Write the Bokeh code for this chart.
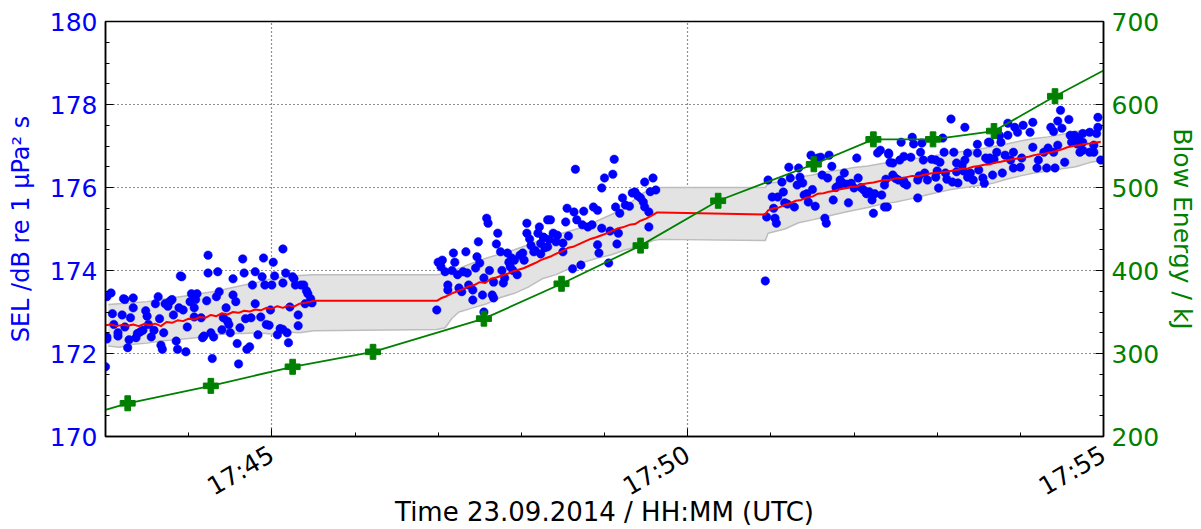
import math
import calendar
from datetime import datetime
from bokeh.plotting import figure
from bokeh.models import (Range1d, LinearAxis, SingleIntervalTicker, FixedTicker,
                          DatetimeTickFormatter)
from bokeh.embed import file_html
from bokeh.resources import INLINE

# ---------------- data ----------------
# times are seconds after 17:43:00 UTC on 23.09.2014
base_time = "2014-09-23 17:43:00"

sel_t = [
    # cluster 1
    4, 1, 1, 1, 0, 5, 6, 9, 9, 12, 13, 14, 14, 16, 17, 18, 20, 20, 22, 23, 25, 27, 29, 30, 31, 33, 35, 36, 38, 39,
    40, 41, 42, 43, 45, 46, 47, 48, 49, 51, 52, 53, 54, 55, 56, 58, 59, 61, 62, 64, 64, 65, 66, 69, 70, 71, 73, 74,
    74, 76, 77, 78, 80, 81, 82, 84, 85, 87, 88, 89, 90, 92, 92, 94, 95, 96, 97, 99, 100, 101, 102, 104, 105, 106,
    108, 108, 110, 112, 113, 114, 115, 116, 118, 119, 120, 121, 122, 124, 126, 128, 128, 128, 130, 131, 132, 133,
    135, 136, 137, 139, 139, 141, 143, 144, 145, 146, 148, 149,
    # cluster 2
    239, 240, 243, 242, 245, 247, 247, 250, 251, 252, 254, 255, 257, 258, 260, 261, 262, 265, 265, 267, 268, 269,
    270, 272, 273, 273, 275, 276, 277, 279, 280, 280, 282, 283, 285, 286, 287, 288, 290, 291, 292, 293, 294, 295,
    297, 299, 301, 302, 304, 304, 306, 307, 309, 310, 312, 313, 314, 316, 317, 319, 320,
    339, 367, 366, 360, 358, 389, 395, 397, 393, 333, 338, 345, 352, 355, 368, 373, 375, 378, 380, 382, 384, 386,
    388, 389, 392, 371, 321, 332, 340, 344, 348, 351, 358, 364, 316, 323, 326, 334, 319, 325, 330, 370, 392, 355,
    369, 356, 330, 363, 343, 337, 314,
    # cluster 3
    476, 477, 478, 481, 482, 483, 484, 485, 488, 489, 490, 492, 493, 494, 497, 499, 500, 501, 503, 504, 506, 507,
    509, 510, 512, 514, 516, 517, 519, 520, 521, 522, 524, 525, 527, 529, 530, 532, 533, 535, 536, 538, 540, 542,
    543, 545, 547, 549, 551, 553, 554, 555, 557, 559, 560, 562, 563, 565, 566,
    574, 582, 583, 589, 604, 629, 637, 565, 568, 573, 576, 581, 588, 590, 596, 599, 602, 605, 612, 614, 618, 620,
    622, 629, 635, 637, 562, 568, 570, 572, 576, 578, 586, 587, 591, 593, 599, 600, 606, 607, 611, 614, 615, 619,
    622, 624, 626, 630, 633, 634, 640, 586, 601, 564, 576, 610, 620,
    689, 687, 695, 669, 662, 656, 651, 682, 684, 667, 658, 651, 646, 645, 690, 696, 699, 702, 705, 710, 716, 716,
    697, 701, 705, 713, 715, 638, 643, 649, 655, 669, 677, 680, 684, 687, 705, 710, 713, 638, 641, 653, 661, 673,
    692, 703, 647, 655, 660, 672, 679, 685, 718,
]
sel_db = [
    # cluster 1
    173.46, 173.37, 172.40, 172.35, 171.68, 172.96, 172.70, 172.50, 172.42, 172.93, 173.32, 173.30, 172.64, 172.14,
    172.33, 172.86, 173.34, 173.10, 172.38, 172.48, 172.52, 172.56, 173.03, 172.90, 172.70, 172.40, 172.56, 173.20,
    173.37, 172.84, 172.20, 172.10, 172.50, 173.20, 173.14, 173.24, 173.27, 173.30, 172.93, 172.30, 172.10, 173.10,
    173.87, 173.85, 173.05, 172.04, 172.64, 173.25, 173.44, 173.10, 172.88, 173.30, 173.44, 172.86, 172.38, 172.42,
    173.27, 174.37, 173.94, 172.50, 171.88, 172.40, 173.37, 173.97, 173.49, 172.57, 172.86, 173.10, 172.78, 172.70,
    172.50, 173.41, 173.80, 173.25, 172.24, 171.75, 172.62, 174.28, 173.94, 172.84, 172.10, 172.16, 172.86, 173.65,
    173.97, 173.20, 172.45, 172.88, 173.85, 174.30, 173.65, 172.70, 172.68, 173.05, 173.65, 174.20, 173.87, 172.45,
    172.60, 172.58, 173.70, 174.52, 173.94, 172.50, 172.26, 173.12, 173.85, 173.80, 173.65, 172.93, 172.67, 173.65,
    173.65, 173.20, 173.51, 173.44, 173.32, 173.22,
    # cluster 2
    173.05, 174.20, 174.25, 174.09, 173.97, 173.65, 173.53, 174.00, 174.42, 174.20, 173.90, 173.58, 173.49, 173.97,
    174.45, 173.94, 173.65, 173.53, 173.29, 174.06, 174.33, 174.69, 174.18, 173.41, 173.00, 173.82, 175.26, 175.14,
    174.00, 173.41, 173.34, 173.72, 174.64, 174.90, 174.45, 174.00, 173.70, 173.82, 174.42, 174.20, 174.09, 174.30,
    174.00, 174.25, 173.90, 174.37, 174.42, 174.25, 175.14, 174.90, 174.76, 174.60, 174.45, 174.48, 174.90, 175.05,
    174.65, 174.80, 174.55, 175.22, 174.75,
    176.44, 176.68, 176.32, 176.23, 175.99, 176.13, 176.23, 175.94, 175.90, 175.50, 175.41, 175.43, 175.53, 175.45,
    175.53, 175.75, 175.58, 175.55, 175.87, 175.89, 175.80, 175.75, 175.65, 175.53, 175.41, 175.38, 175.22, 175.17,
    175.22, 175.10, 175.05, 175.10, 175.02, 174.95, 174.80, 174.90, 174.85, 174.83, 174.57, 174.69, 174.66, 174.90,
    175.05, 174.62, 174.64, 174.42, 174.45, 174.18, 174.13, 174.04, 174.40,
    # cluster 3
    173.75, 175.29, 176.18, 175.77, 175.50, 175.26, 175.14, 175.77, 176.13, 175.89, 175.63, 175.60, 176.49, 176.23,
    175.53, 176.06, 176.47, 176.25, 176.11, 175.82, 175.85, 175.65, 176.78, 175.95, 175.55, 176.71, 176.73, 176.30,
    175.26, 175.14, 176.23, 176.78, 176.51, 175.70, 176.00, 176.05, 176.18, 176.10, 176.35, 176.08, 175.63, 176.10,
    175.99, 176.71, 176.23, 176.00, 175.94, 175.85, 175.90, 175.70, 175.38, 175.85, 176.83, 176.90, 175.82, 175.53,
    176.20, 176.80, 176.60,
    177.09, 177.21, 177.05, 177.07, 177.19, 177.04, 177.09, 176.83, 176.59, 176.66, 176.75, 176.73, 176.85, 176.66,
    176.68, 176.66, 176.61, 176.85, 176.85, 176.59, 176.54, 176.66, 176.83, 176.83, 176.71, 176.66, 176.06, 176.30,
    176.22, 176.18, 176.15, 176.06, 176.18, 176.28, 176.35, 176.18, 176.25, 176.40, 176.35, 176.20, 176.13, 176.38,
    176.11, 176.40, 176.25, 176.35, 176.18, 176.42, 176.23, 176.10, 176.30, 175.75, 175.99, 175.53, 176.10, 177.65,
    177.45,
    177.86, 177.60, 177.64, 177.57, 177.50, 177.45, 177.55, 177.45, 177.35, 177.33, 177.33, 177.26, 177.09, 177.25,
    177.43, 177.26, 177.26, 177.19, 177.30, 177.33, 177.69, 177.45, 177.09, 177.05, 177.09, 177.02, 177.30, 177.09,
    176.85, 176.78, 176.85, 176.97, 176.85, 176.95, 176.85, 177.02, 176.90, 176.85, 176.85, 176.71, 176.68, 176.66,
    176.71, 176.66, 176.61, 176.85, 176.35, 176.47, 176.49, 176.47, 176.47, 176.47, 176.66,
]

median_t = [0, 4, 8, 12, 16, 20, 24, 28, 32, 36, 40, 44, 48, 52, 56, 60, 64, 68, 72, 76, 80, 84, 88, 92, 96, 100,
            104, 108, 112, 116, 120, 124, 128, 132, 136, 140, 144, 148, 150,
            239, 242, 246, 250, 254, 258, 262, 266, 270, 274, 278, 282, 286, 290, 294, 298, 302, 306, 310, 314, 318,
            322, 326, 330, 334, 338, 342, 346, 350, 354, 358, 362, 366, 370, 374, 378, 382, 386, 390, 394, 398, 400,
            476, 478, 482, 486, 490, 494, 498, 502, 506, 510, 514, 518, 522, 526, 530, 534, 538, 542, 546, 550, 554,
            558, 562, 566, 570, 574, 578, 582, 586, 590, 594, 598, 602, 606, 610, 614, 618, 622, 626, 630, 634, 638,
            642, 646, 650, 654, 658, 662, 666, 670, 674, 678, 682, 686, 690, 694, 698, 702, 706, 710, 714, 718]
median_db = [172.68, 172.70, 172.66, 172.69, 172.67, 172.70, 172.66, 172.71, 172.68, 172.72, 172.66, 172.76, 172.74,
             172.80, 172.78, 172.84, 172.82, 172.88, 172.86, 172.93, 172.90, 172.97, 172.94, 173.00, 172.98, 173.03,
             173.01, 173.06, 173.04, 173.10, 173.08, 173.14, 173.10, 173.16, 173.13, 173.20, 173.22, 173.25, 173.27,
             173.27, 173.33, 173.38, 173.45, 173.50, 173.55, 173.62, 173.65, 173.72, 173.70, 173.80, 173.83, 173.88,
             173.92, 173.98, 174.02, 174.06, 174.12, 174.18, 174.25, 174.30, 174.35, 174.42, 174.47, 174.55, 174.58,
             174.64, 174.70, 174.76, 174.80, 174.85, 174.90, 174.96, 175.02, 175.05, 175.10, 175.12, 175.20, 175.25,
             175.32, 175.40, 175.40,
             175.35, 175.45, 175.50, 175.52, 175.58, 175.62, 175.68, 175.70, 175.76, 175.78, 175.85, 175.86, 175.90,
             175.92, 175.96, 175.98, 176.02, 176.02, 176.08, 176.10, 176.12, 176.15, 176.18, 176.18, 176.22, 176.22,
             176.25, 176.28, 176.27, 176.30, 176.33, 176.35, 176.36, 176.38, 176.40, 176.42, 176.45, 176.46, 176.50,
             176.52, 176.55, 176.56, 176.60, 176.62, 176.65, 176.68, 176.70, 176.72, 176.74, 176.78, 176.80, 176.82,
             176.85, 176.88, 176.92, 176.97, 177.00, 177.02, 177.05, 177.06, 177.08, 177.10]

band_t = [2, 10, 20, 30, 40, 50, 60, 70, 80, 90, 100, 110, 120, 130, 140, 150, 239, 245, 250, 255, 265, 275, 285,
          295, 305, 315, 325, 335, 345, 355, 365, 375, 385, 395, 400, 476, 478, 490, 500, 510, 520, 530, 540, 550,
          560, 570, 580, 590, 600, 610, 620, 630, 640, 650, 660, 670, 680, 690, 700, 710, 718]
band_low = [172.18, 172.15, 172.22, 172.25, 172.30, 172.33, 172.36, 172.40, 172.45, 172.48, 172.48, 172.50, 172.47,
            172.52, 172.50, 172.55, 172.58, 172.62, 172.85, 173.00, 173.10, 173.20, 173.35, 173.45, 173.60, 173.80,
            173.90, 174.05, 174.20, 174.30, 174.38, 174.50, 174.58, 174.72, 174.75, 174.72, 174.90, 175.00, 175.15,
            175.22, 175.30, 175.38, 175.45, 175.52, 175.60, 175.65, 175.72, 175.80, 175.88, 175.95, 176.00, 176.05,
            176.10, 176.20, 176.28, 176.35, 176.40, 176.45, 176.50, 176.60, 176.65]
band_high = [173.18, 173.20, 173.22, 173.25, 173.30, 173.35, 173.40, 173.45, 173.50, 173.58, 173.65, 173.72, 173.80,
             173.85, 173.88, 173.90, 173.90, 173.92, 173.98, 174.05, 174.18, 174.30, 174.40, 174.50, 174.62, 174.75,
             174.85, 174.95, 175.05, 175.20, 175.35, 175.50, 175.82, 175.98, 176.00, 176.00, 176.10, 176.15, 176.25,
             176.30, 176.38, 176.42, 176.48, 176.52, 176.58, 176.62, 176.68, 176.72, 176.78, 176.82, 176.88, 176.92,
             176.98, 177.05, 177.12, 177.18, 177.22, 177.28, 177.35, 177.40, 177.45]

energy_t = [16, 76, 135, 193, 273, 329, 386, 442, 511, 554, 597, 641, 685]
energy_kj = [240, 261, 284, 302, 342, 384, 430, 484, 528, 558, 558, 568, 610]
energy_line_t = [0] + energy_t + [720]
energy_line_kj = [232] + energy_kj + [641]

# ---------------- helpers ----------------
base_ms = calendar.timegm(datetime.strptime(base_time, "%Y-%m-%d %H:%M:%S").timetuple()) * 1000.0


def ms(seconds):
    return [base_ms + s * 1000.0 for s in seconds]


FONT = "DejaVu Sans"
BLUE = "#0000ff"
GREEN = "#008000"

p = figure(width=1201, height=529, x_axis_type="datetime", output_backend="svg", toolbar_location=None,
           x_range=Range1d(base_ms, base_ms + 720 * 1000.0), y_range=Range1d(170, 180),
           min_border_left=105, min_border_right=98, min_border_top=21, min_border_bottom=92)
p.background_fill_color = "white"
p.border_fill_color = "white"
p.outline_line_color = "black"
p.outline_line_width = 1.5

p.extra_y_ranges = {"energy": Range1d(200, 700)}

# band
p.varea(x=ms(band_t), y1=band_low, y2=band_high, fill_color="#e3e3e3")
p.line(ms(band_t), band_low, line_color="#bdbdbd", line_width=1.5)
p.line(ms(band_t), band_high, line_color="#bdbdbd", line_width=1.5)

# scatter
p.scatter(ms(sel_t), sel_db, size=8.5, fill_color=BLUE, line_color=BLUE, line_width=0.5)

# median
p.line(ms(median_t), median_db, line_color="#ff0000", line_width=2)

# energy
p.line(ms(energy_line_t), energy_line_kj, line_color=GREEN, line_width=1.8, y_range_name="energy")
p.scatter(ms(energy_t), energy_kj, marker="plus", size=15, fill_color=GREEN, line_color=GREEN,
          y_range_name="energy")

# x axis
xmaj = [base_ms + s * 1000.0 for s in (120, 420, 720)]
xmin = [base_ms + m * 60000.0 for m in range(0, 13)]
xa = p.xaxis[0]
xa.ticker = FixedTicker(ticks=xmaj, minor_ticks=xmin)
xa.formatter = DatetimeTickFormatter(seconds="%H:%M", minsec="%H:%M", minutes="%H:%M", hourmin="%H:%M",
                                     hours="%H:%M", days="%H:%M")
xa.major_label_orientation = math.pi / 6
xa.axis_label = "Time 23.09.2014 / HH:MM (UTC)"

# left axis
ya = p.yaxis[0]
ya.ticker = SingleIntervalTicker(interval=2, num_minor_ticks=4)
ya.axis_label = "SEL /dB re 1 µPa² s"

# right axis
ra = LinearAxis(y_range_name="energy", ticker=SingleIntervalTicker(interval=100, num_minor_ticks=4),
                axis_label="Blow Energy / kJ")
p.add_layout(ra, "right")

for ax in (xa, ya, ra):
    ax.axis_line_color = "black"
    ax.axis_line_width = 1.5
    ax.major_tick_in = 8
    ax.major_tick_out = 0
    ax.minor_tick_in = 4
    ax.minor_tick_out = 0
    ax.major_tick_line_color = "black"
    ax.minor_tick_line_color = "black"
    ax.major_label_text_font = FONT
    ax.major_label_text_font_size = "25px"
    ax.axis_label_text_font = FONT
    ax.axis_label_text_font_size = "25px"
    ax.axis_label_text_font_style = "normal"
    ax.major_label_standoff = 8
    ax.axis_label_standoff = 12

xa.major_label_text_color = "black"
xa.axis_label_text_color = "black"
xa.axis_label_text_font_size = "26px"
ya.major_label_text_color = BLUE
ya.axis_label_text_color = BLUE
ya.axis_label_text_font_size = "24px"
ra.major_label_text_color = GREEN
ra.axis_label_text_color = GREEN
ra.axis_label_text_font_size = "25px"
ra.axis_label_standoff = 6
xa.major_label_standoff = 16
xa.axis_label_standoff = -20

# grids
p.xgrid.ticker = FixedTicker(ticks=xmaj)
p.ygrid.ticker = SingleIntervalTicker(interval=2)
for g in (p.xgrid[0], p.ygrid[0]):
    g.grid_line_color = "#222222"
    g.grid_line_dash = "1 3"
    g.grid_line_width = 1.2
    g.grid_line_alpha = 1.0

open("out.html", "w").write(file_html(p, INLINE))
